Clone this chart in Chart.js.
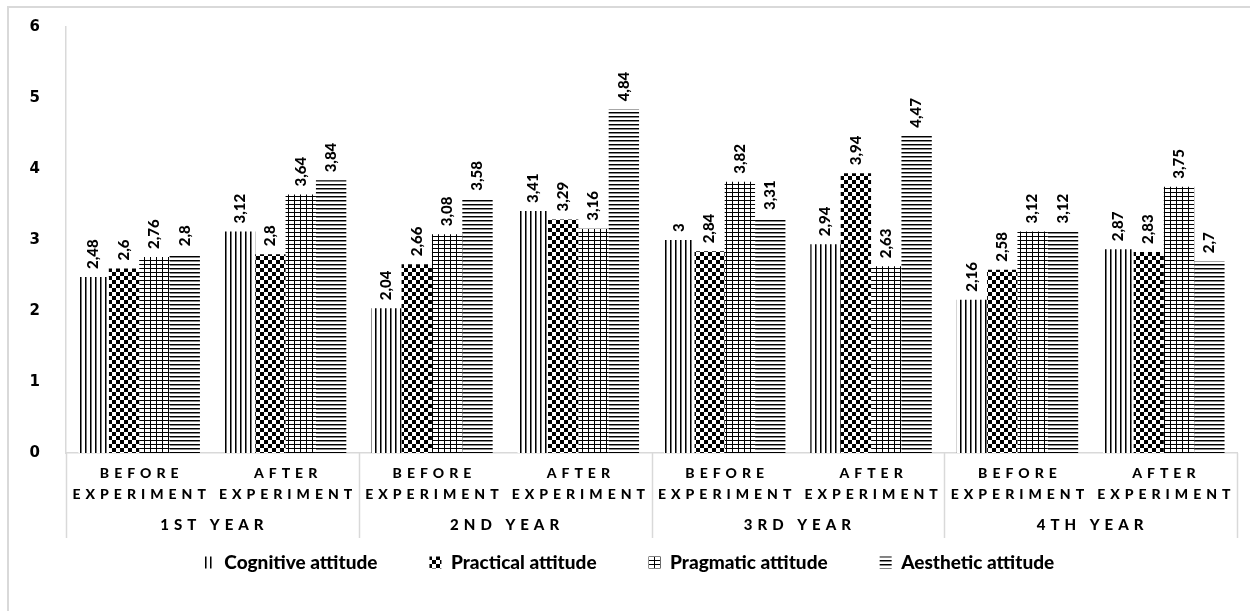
<!DOCTYPE html>
<html>
<head>
<style>
  body { margin: 0; background: #fff; }
</style>
</head>
<body>
<script src="https://cdn.jsdelivr.net/npm/chart.js@4.4.0/dist/chart.umd.min.js"></script>
<canvas id="myChart" width="1250" height="611" style="width:1250px;height:611px"></canvas>
<script>
    // data
    var years = ['1ST YEAR', '2ND YEAR', '3RD YEAR', '4TH YEAR'];
    var categories = [
        ['BEFORE', 'EXPERIMENT'], ['AFTER', 'EXPERIMENT'],
        ['BEFORE', 'EXPERIMENT'], ['AFTER', 'EXPERIMENT'],
        ['BEFORE', 'EXPERIMENT'], ['AFTER', 'EXPERIMENT'],
        ['BEFORE', 'EXPERIMENT'], ['AFTER', 'EXPERIMENT']
    ];
    var cognitive = [2.48, 3.12, 2.04, 3.41, 3, 2.94, 2.16, 2.87];
    var practical = [2.6, 2.8, 2.66, 3.29, 2.84, 3.94, 2.58, 2.83];
    var pragmatic = [2.76, 3.64, 3.08, 3.16, 3.82, 2.63, 3.12, 3.75];
    var aesthetic = [2.8, 3.84, 3.58, 4.84, 3.31, 4.47, 3.12, 2.7];
    var seriesNames = ['Cognitive attitude', 'Practical attitude', 'Pragmatic attitude', 'Aesthetic attitude'];
    var yMin = 0, yMax = 6, yStep = 1;

    var ctx = document.getElementById('myChart').getContext('2d');

    function makePattern(w, h, draw) {
        var c = document.createElement('canvas');
        c.width = w; c.height = h;
        var g = c.getContext('2d');
        g.fillStyle = '#fff';
        g.fillRect(0, 0, w, h);
        draw(g);
        return ctx.createPattern(c, 'repeat');
    }
    var vLines = makePattern(5, 4, function (g) {
        g.fillStyle = '#000'; g.fillRect(0, 0, 1, 4);
        g.fillStyle = '#777'; g.fillRect(1, 0, 1, 4);
    });
    var checker = makePattern(8, 8, function (g) {
        g.fillStyle = '#000';
        g.fillRect(0, 0, 4, 4);
        g.fillRect(4, 4, 4, 4);
    });
    var grid = makePattern(6, 4, function (g) {
        g.fillStyle = '#000';
        g.fillRect(0, 0, 1, 4);
        g.fillRect(0, 0, 6, 1);
    });
    var hLines = makePattern(4, 4, function (g) {
        g.fillStyle = '#000'; g.fillRect(0, 0, 4, 1);
        g.fillStyle = '#888'; g.fillRect(0, 1, 4, 1);
    });

    var lineGrey = '#d9d9d9';

    // outer frame
    var framePlugin = {
        id: 'frame',
        beforeDraw: function (chart) {
            var c = chart.ctx;
            c.save();
            c.strokeStyle = lineGrey;
            c.lineWidth = 2;
            c.strokeRect(8, 7, chart.width + 20, chart.height + 20);
            c.restore();
        }
    };

    // rotated value labels above bars
    var valueLabels = {
        id: 'valueLabels',
        afterDatasetsDraw: function (chart) {
            var c = chart.ctx;
            c.save();
            c.fillStyle = '#000';
            c.font = '900 15px Lato';
            c.textAlign = 'left';
            c.textBaseline = 'middle';
            chart.data.datasets.forEach(function (ds, i) {
                chart.getDatasetMeta(i).data.forEach(function (bar, j) {
                    c.save();
                    c.translate(bar.x, bar.y - 8);
                    c.rotate(-Math.PI / 2);
                    c.fillText(String(ds.data[j]).replace('.', ','), 0, 0);
                    c.restore();
                });
            });
            c.restore();
        }
    };

    // two-level category axis with separators
    var groupAxis = {
        id: 'groupAxis',
        afterDraw: function (chart) {
            var c = chart.ctx;
            var xs = chart.scales.x;
            var area = chart.chartArea;
            var bottom = area.bottom + 85;
            var step = (area.right - area.left) / categories.length;
            c.save();
            c.strokeStyle = lineGrey;
            c.lineWidth = 1.5;
            for (var k = 0; k <= years.length; k++) {
                var x = Math.round(area.left + k * 2 * step) + 0.5;
                c.beginPath();
                c.moveTo(x, area.bottom);
                c.lineTo(x, bottom);
                c.stroke();
            }
            c.fillStyle = '#000';
            c.textAlign = 'center';
            c.textBaseline = 'middle';
            c.font = '900 14px Lato';
            c.letterSpacing = '5px';
            categories.forEach(function (lab, i) {
                var x = xs.getPixelForValue(i) + 2.5;
                c.fillText(lab[0], x, area.bottom + 20);
                c.fillText(lab[1], x, area.bottom + 41);
            });
            c.font = '900 15px Lato';
            c.letterSpacing = '5px';
            years.forEach(function (y, k) {
                var x = (xs.getPixelForValue(2 * k) + xs.getPixelForValue(2 * k + 1)) / 2 + 2;
                c.fillText(y, x, area.bottom + 72);
            });
            c.restore();
        }
    };

    var myChart = new Chart(ctx, {
        type: 'bar',
        data: {
            labels: categories,
            datasets: [
                { label: seriesNames[0], data: cognitive, backgroundColor: vLines },
                { label: seriesNames[1], data: practical, backgroundColor: checker },
                { label: seriesNames[2], data: pragmatic, backgroundColor: grid },
                { label: seriesNames[3], data: aesthetic, backgroundColor: hLines }
            ]
        },
        options: {
            responsive: false,
            animation: false,
            devicePixelRatio: 1,
            categoryPercentage: 0.83,
            barPercentage: 1,
            layout: { padding: { left: 20, right: 13, top: 27, bottom: 29 } },
            plugins: {
                tooltip: { enabled: false },
                legend: {
                    position: 'bottom',
                    labels: {
                        color: '#000',
                        font: { family: 'Lato', weight: '900', size: 19 },
                        boxWidth: 12,
                        boxHeight: 12,
                        padding: 52
                    }
                }
            },
            scales: {
                x: {
                    grid: { display: false },
                    border: { color: lineGrey, width: 1.5 },
                    ticks: { display: false },
                    afterFit: function (scale) { scale.height = 48; }
                },
                y: {
                    min: yMin,
                    max: yMax,
                    grid: { display: false },
                    border: { color: lineGrey, width: 1.5 },
                    ticks: {
                        stepSize: yStep,
                        color: '#000',
                        padding: 18,
                        font: { family: 'DejaVu Sans', weight: 'bold', size: 15 }
                    },
                    afterFit: function (scale) { scale.width = 46; }
                }
            }
        },
        plugins: [framePlugin, valueLabels, groupAxis]
    });
</script>
</body>
</html>
